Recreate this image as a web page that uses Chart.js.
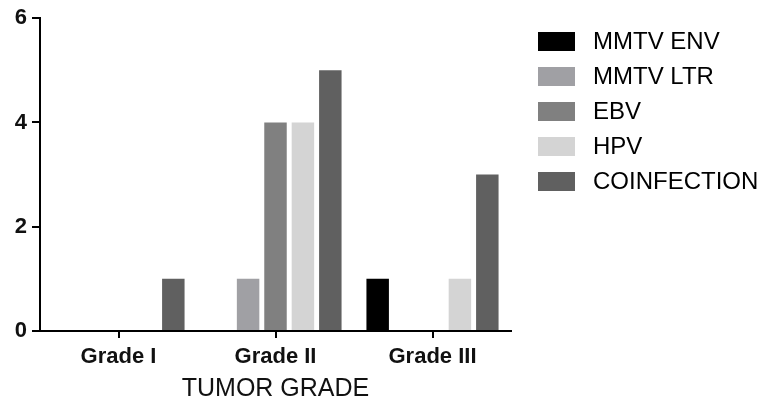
<!DOCTYPE html>
<html>
<head>
<meta charset="utf-8">
<script src="https://cdn.jsdelivr.net/npm/chart.js@4/dist/chart.umd.min.js"></script>
<style>
    html, body { margin: 0; padding: 0; background: #fff; }
    #wrap { width: 765px; height: 404px; position: relative; }
</style>
</head>
<body>
<div id="wrap"><canvas id="chart" width="765" height="404"></canvas></div>
<script>
const categories = ['Grade I', 'Grade II', 'Grade III'];
const seriesNames = ['MMTV ENV', 'MMTV LTR', 'EBV', 'HPV', 'COINFECTION'];
const mmtvEnv = [0, 0, 1];
const mmtvLtr = [0, 1, 0];
const ebv = [0, 4, 0];
const hpv = [0, 4, 1];
const coinfection = [1, 5, 3];
const yTicks = [0, 2, 4, 6];
const colors = ['#000000', '#a0a0a4', '#808080', '#d4d4d4', '#606060'];

const FONT = '"Liberation Sans", Arial, sans-serif';

// legend drawn by hand so box and text gaps match
const sideLegend = {
    id: 'sideLegend',
    afterDraw(chart) {
        const ctx = chart.ctx;
        ctx.save();
        ctx.font = '24px ' + FONT;
        ctx.textBaseline = 'middle';
        chart.data.datasets.forEach((ds, i) => {
            const y = 32 + i * 35;
            ctx.fillStyle = ds.backgroundColor;
            ctx.fillRect(538, y, 37, 19);
            ctx.fillStyle = '#000';
            ctx.fillText(ds.label, 593, y + 10);
        });
        ctx.restore();
    }
};

const seriesData = [mmtvEnv, mmtvLtr, ebv, hpv, coinfection];

new Chart(document.getElementById('chart').getContext('2d'), {
    type: 'bar',
    data: {
        labels: categories,
        datasets: seriesNames.map((name, i) => ({
            label: name,
            data: seriesData[i],
            backgroundColor: colors[i],
            borderWidth: 0,
            categoryPercentage: 0.873,
            barPercentage: 0.82
        }))
    },
    options: {
        responsive: false,
        animation: false,
        layout: { padding: { top: 18, right: 254, left: 0, bottom: 0 } },
        plugins: { legend: { display: false }, tooltip: { enabled: false } },
        scales: {
            x: {
                grid: { drawOnChartArea: false, drawTicks: true, tickLength: 7, offset: false, color: '#000', lineWidth: 2 },
                border: { display: true, color: '#000', width: 2 },
                ticks: { color: '#111', font: { family: FONT, size: 22, weight: 'bold' }, padding: 6 },
                title: { display: true, text: 'TUMOR GRADE', color: '#111', font: { family: FONT, size: 25 }, padding: { top: 4, bottom: 0 } },
                afterFit: s => { s.height = 73; }
            },
            y: {
                min: 0,
                max: 6,
                afterBuildTicks: s => { s.ticks = yTicks.map(v => ({ value: v })); },
                grid: { drawOnChartArea: false, drawTicks: true, tickLength: 8, color: '#000', lineWidth: 2 },
                border: { display: true, color: '#000', width: 2 },
                ticks: { color: '#111', font: { family: FONT, size: 22, weight: 'bold' }, padding: 5 },
                afterFit: s => { s.width = 40; }
            }
        }
    },
    plugins: [sideLegend]
});
</script>
</body>
</html>
